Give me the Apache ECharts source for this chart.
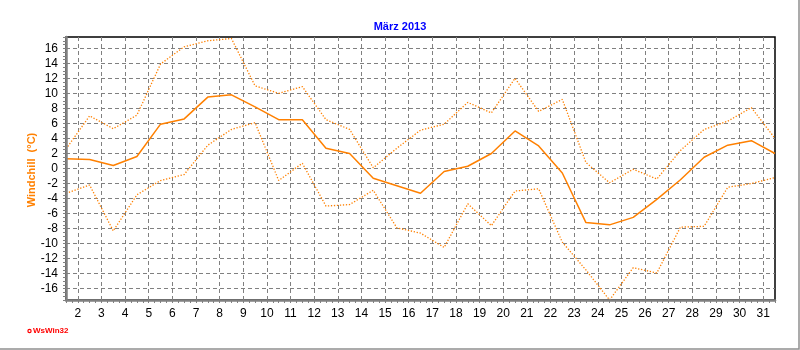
<!DOCTYPE html>
<html>
<head>
<meta charset="utf-8">
<script src="https://cdn.jsdelivr.net/npm/echarts@6/dist/echarts.min.js"></script>
<style>
html, body { margin: 0; padding: 0; background: #fff; }
#chart { width: 800px; height: 350px; }
</style>
</head>
<body>
<div id="chart"></div>
<script>
// days of the month, values plotted in the middle of each day
var days = [1, 2, 3, 4, 5, 6, 7, 8, 9, 10, 11, 12, 13, 14, 15, 16,
	17, 18, 19, 20, 21, 22, 23, 24, 25, 26, 27, 28, 29, 30, 31];

// Windchill max / mean / min (°C)
var wcMax = [2.6, 7.0, 5.3, 7.1, 13.9, 16.2, 17.0, 17.3, 11.0, 10.0, 10.9, 6.5, 5.2, 0.1, 2.7, 5.1,
	5.9, 8.8, 7.4, 12.0, 7.6, 9.2, 0.8, -1.9, -0.1, -1.4, 2.4, 5.2, 6.3, 8.1, 4.0];
var wcMean = [1.3, 1.2, 0.4, 1.6, 5.9, 6.6, 9.5, 9.8, 8.2, 6.5, 6.5, 2.7, 2.0, -1.3, -2.3, -3.3,
	-0.4, 0.3, 2.0, 5.0, 3.0, -0.6, -7.2, -7.5, -6.5, -4.1, -1.5, 1.5, 3.1, 3.7, 2.0];
var wcMin = [-3.3, -2.2, -8.3, -3.5, -1.6, -0.8, 3.1, 5.2, 6.1, -1.6, 0.7, -5.0, -4.8, -2.9, -7.9, -8.6,
	-10.5, -4.7, -7.6, -3.0, -2.7, -9.8, -13.5, -17.5, -13.2, -13.9, -7.8, -7.7, -2.5, -2.0, -1.2];

// tick labels
var xLabels = [2, 3, 4, 5, 6, 7, 8, 9, 10, 11, 12, 13, 14, 15, 16, 17,
	18, 19, 20, 21, 22, 23, 24, 25, 26, 27, 28, 29, 30, 31];
var yLabels = [-16, -14, -12, -10, -8, -6, -4, -2, 0, 2, 4, 6, 8, 10, 12, 14, 16];

var orange = '#FF8000';
var gridGray = '#808080';

function pts(vals) {
	return days.map(function(d, i) { return [d + 0.5, vals[i]]; });
}

var myChart = echarts.init(document.getElementById('chart'), null, { renderer: 'canvas' });

var option = {
	animation: false,
	backgroundColor: '#fff',
	title: {
		text: 'März 2013',
		left: 'center',
		top: 16,
		textStyle: {
			fontFamily: 'Liberation Sans, Arial',
			fontSize: 11,
			fontWeight: 'bold',
			color: '#0000FF'
		}
	},
	grid: {
		left: 66,
		right: 25,
		top: 37,
		bottom: 50,
		show: true,
		borderColor: '#000',
		borderWidth: 1.5
	},
	xAxis: [{
		// visible axis: line, small ticks, labels
		type: 'value',
		min: 1.5,
		max: 31.5,
		interval: 0.25,
		axisLine: { show: true, onZero: false, lineStyle: { color: gridGray, width: 2.5 } },
		axisTick: { show: true, length: 3, lineStyle: { color: gridGray, width: 1 } },
		axisLabel: {
			customValues: xLabels,
			margin: 8,
			fontFamily: 'Liberation Sans, Arial',
			fontSize: 12,
			color: '#000'
		},
		splitLine: { show: false },
		z: 5
	}, {
		// grid lines only
		type: 'value',
		min: 1.5,
		max: 31.5,
		position: 'bottom',
		axisLine: { show: false, onZero: false },
		axisTick: { show: false, customValues: xLabels },
		axisLabel: { show: false },
		splitLine: {
			show: true,
			customValues: xLabels,
			lineStyle: { color: gridGray, type: [4, 3], width: 1 }
		}
	}],
	yAxis: [{
		type: 'value',
		min: -17.5,
		max: 17.5,
		interval: 0.5,
		axisLine: { show: true, onZero: false, lineStyle: { color: gridGray, width: 2.5 } },
		axisTick: { show: true, length: 3, lineStyle: { color: gridGray, width: 1 } },
		axisLabel: {
			customValues: yLabels,
			margin: 8,
			fontFamily: 'Liberation Sans, Arial',
			fontSize: 12,
			color: '#000'
		},
		splitLine: { show: false },
		z: 5
	}, {
		type: 'value',
		min: -17.5,
		max: 17.5,
		position: 'left',
		axisLine: { show: false, onZero: false },
		axisTick: { show: false, customValues: yLabels },
		axisLabel: { show: false },
		splitLine: {
			show: true,
			customValues: yLabels,
			lineStyle: { color: gridGray, type: [4, 3], width: 1 }
		}
	}],
	series: [{
		name: 'max',
		type: 'line',
		data: pts(wcMax),
		symbol: 'none',
		lineStyle: { color: orange, width: 1.3, type: [1.3, 1.7] },
		z: 3
	}, {
		name: 'mittel',
		type: 'line',
		data: pts(wcMean),
		symbol: 'none',
		lineStyle: { color: orange, width: 1.5 },
		z: 4
	}, {
		name: 'min',
		type: 'line',
		data: pts(wcMin),
		symbol: 'none',
		lineStyle: { color: orange, width: 1.3, type: [1.3, 1.7] },
		z: 3
	}],
	graphic: [{
		type: 'text',
		x: 32,
		y: 170,
		rotation: Math.PI / 2,
		style: {
			text: 'Windchill  (°C)',
			fill: orange,
			font: 'bold 11px "Liberation Sans", Arial',
			align: 'center',
			verticalAlign: 'middle'
		}
	}, {
		type: 'circle',
		shape: { cx: 29.5, cy: 331, r: 1.6 },
		style: { fill: '#fff', stroke: '#FF0000', lineWidth: 1.2 }
	}, {
		type: 'text',
		x: 33,
		y: 331,
		style: {
			text: 'WsWin32',
			fill: '#FF0000',
			font: 'bold 8px "Liberation Sans", Arial',
			align: 'left',
			verticalAlign: 'middle'
		}
	}, {
		type: 'polyline',
		shape: { points: [[799, 0], [799, 349], [0, 349]] },
		style: { stroke: '#909090', lineWidth: 1.5, fill: null }
	}]
};

myChart.setOption(option);
</script>
</body>
</html>
